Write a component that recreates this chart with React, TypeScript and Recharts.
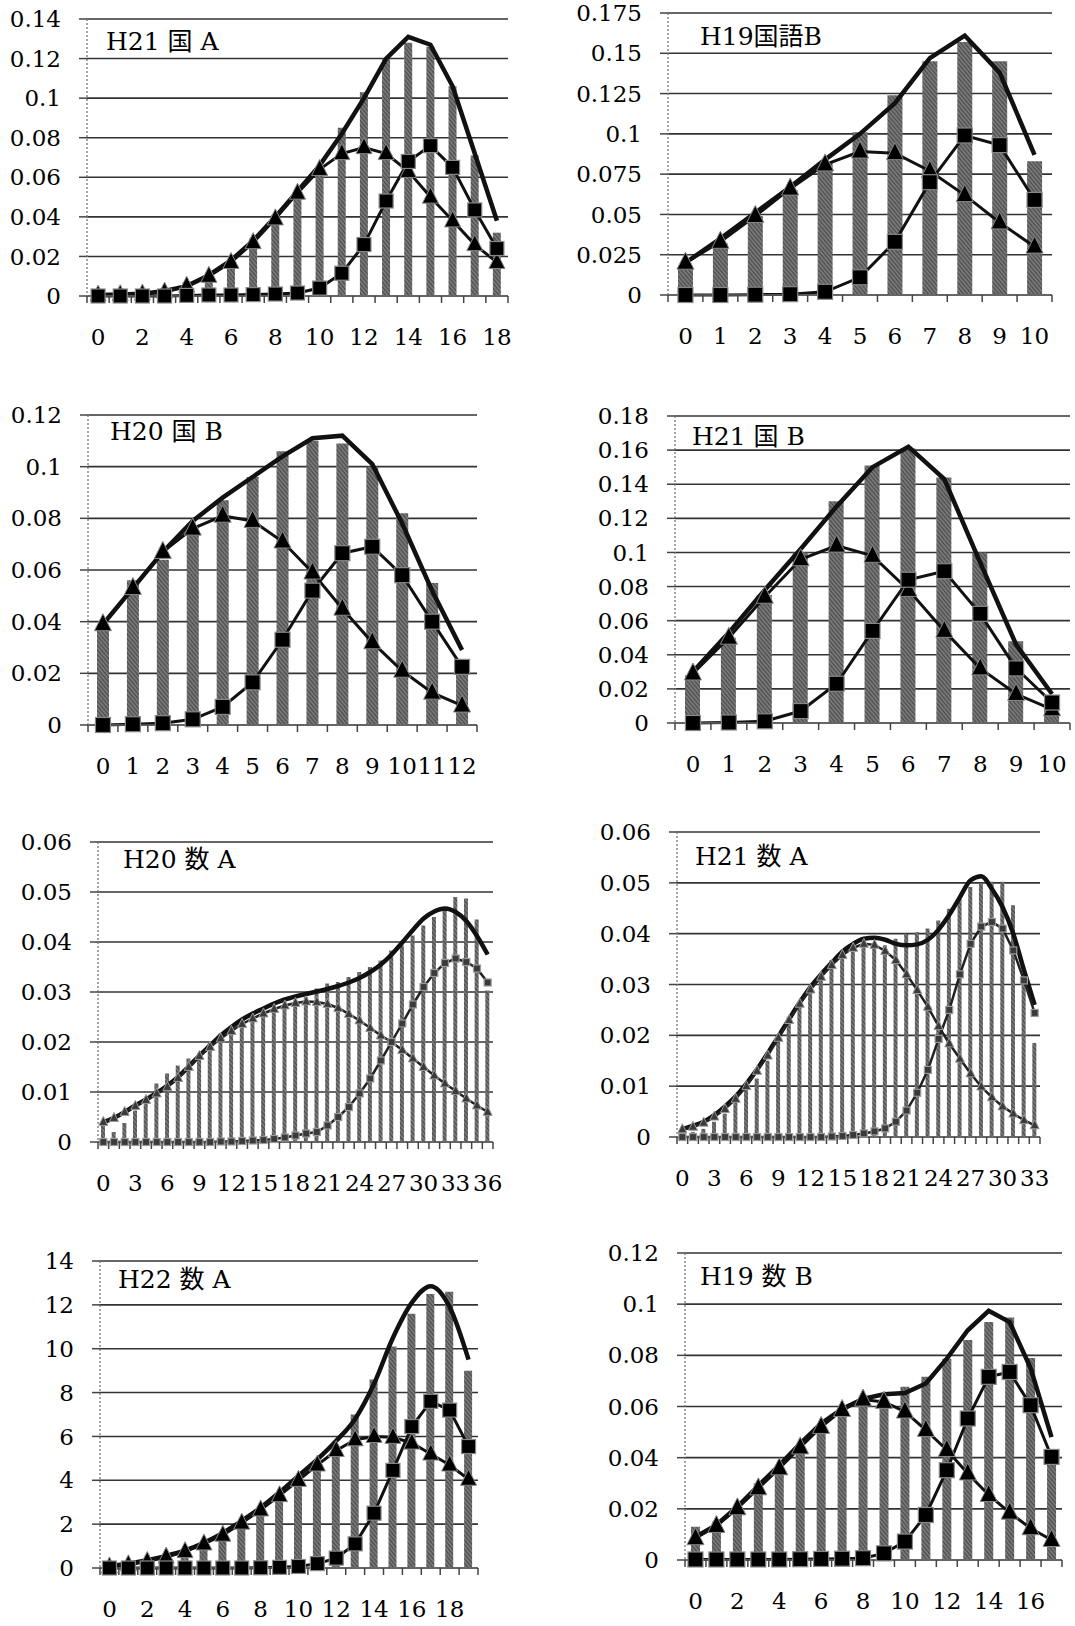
import React from "react";
import { ComposedChart, Bar, Line, XAxis, YAxis, CartesianGrid } from "recharts";

// H21 国A
const kokuA21Cats = [0, 1, 2, 3, 4, 5, 6, 7, 8, 9, 10, 11, 12, 13, 14, 15, 16, 17, 18];
const kokuA21Obs = [0.002, 0.002, 0.002, 0.004, 0.007, 0.01, 0.018, 0.029, 0.041, 0.053, 0.064, 0.085, 0.103, 0.12, 0.128, 0.126, 0.106, 0.071, 0.032];
const kokuA21Sum = [0.0005, 0.0008, 0.0012, 0.0025, 0.005, 0.0105, 0.018, 0.028, 0.04, 0.053, 0.066, 0.082, 0.1, 0.12, 0.131, 0.127, 0.106, 0.072, 0.038];
const kokuA21Low = [0.0005, 0.0007, 0.001, 0.002, 0.005, 0.01, 0.017, 0.027, 0.039, 0.052, 0.064, 0.072, 0.075, 0.072, 0.063, 0.05, 0.038, 0.026, 0.017];
const kokuA21High = [0, 0, 0, 0, 0.0003, 0.0005, 0.0005, 0.0007, 0.001, 0.0015, 0.004, 0.0115, 0.026, 0.048, 0.068, 0.076, 0.065, 0.0435, 0.024];
const kokuA21Ticks = [0, 0.02, 0.04, 0.06, 0.08, 0.1, 0.12, 0.14];

// H19 国語B
const kokuB19Cats = [0, 1, 2, 3, 4, 5, 6, 7, 8, 9, 10];
const kokuB19Obs = [0.018, 0.032, 0.049, 0.065, 0.082, 0.101, 0.124, 0.145, 0.157, 0.145, 0.083];
const kokuB19Sum = [0.02, 0.035, 0.051, 0.067, 0.084, 0.1, 0.119, 0.147, 0.161, 0.138, 0.087];
const kokuB19Low = [0.02, 0.033, 0.049, 0.066, 0.081, 0.089, 0.088, 0.077, 0.062, 0.045, 0.03];
const kokuB19High = [0, 0, 0.0002, 0.0005, 0.002, 0.011, 0.033, 0.07, 0.099, 0.093, 0.059];
const kokuB19Ticks = [0, 0.025, 0.05, 0.075, 0.1, 0.125, 0.15, 0.175];

// H20 国B
const kokuB20Cats = [0, 1, 2, 3, 4, 5, 6, 7, 8, 9, 10, 11, 12];
const kokuB20Obs = [0.037, 0.056, 0.064, 0.076, 0.087, 0.096, 0.106, 0.11, 0.109, 0.1, 0.082, 0.055, 0.024];
const kokuB20Sum = [0.039, 0.053, 0.067, 0.079, 0.088, 0.096, 0.104, 0.111, 0.112, 0.101, 0.078, 0.052, 0.029];
const kokuB20Low = [0.039, 0.053, 0.067, 0.076, 0.081, 0.079, 0.071, 0.059, 0.045, 0.032, 0.021, 0.0125, 0.0075];
const kokuB20High = [0, 0.0003, 0.0007, 0.0022, 0.007, 0.0165, 0.033, 0.052, 0.0665, 0.069, 0.058, 0.04, 0.0225];
const kokuB20Ticks = [0, 0.02, 0.04, 0.06, 0.08, 0.1, 0.12];

// H21 国B
const kokuB21Cats = [0, 1, 2, 3, 4, 5, 6, 7, 8, 9, 10];
const kokuB21Obs = [0.028, 0.05, 0.075, 0.1, 0.13, 0.151, 0.161, 0.144, 0.1, 0.048, 0.014];
const kokuB21Sum = [0.03, 0.053, 0.078, 0.102, 0.127, 0.15, 0.162, 0.143, 0.094, 0.046, 0.017];
const kokuB21Low = [0.029, 0.05, 0.074, 0.096, 0.104, 0.098, 0.078, 0.054, 0.032, 0.017, 0.008];
const kokuB21High = [0, 0.0003, 0.001, 0.007, 0.023, 0.054, 0.084, 0.089, 0.064, 0.032, 0.012];
const kokuB21Ticks = [0, 0.02, 0.04, 0.06, 0.08, 0.1, 0.12, 0.14, 0.16, 0.18];

// H20 数A
const suA20Cats = [0, 1, 2, 3, 4, 5, 6, 7, 8, 9, 10, 11, 12, 13, 14, 15, 16, 17, 18, 19, 20, 21, 22, 23, 24, 25, 26, 27, 28, 29, 30, 31, 32, 33, 34, 35, 36];
const suA20Obs = [0.004, 0.002, 0.0038, 0.0063, 0.008, 0.0117, 0.0137, 0.0153, 0.0167, 0.0177, 0.02, 0.0217, 0.0227, 0.024, 0.0247, 0.0263, 0.028, 0.0273, 0.0283, 0.029, 0.0307, 0.0317, 0.032, 0.033, 0.034, 0.035, 0.0363, 0.0383, 0.0393, 0.0413, 0.0433, 0.045, 0.0467, 0.049, 0.0487, 0.0445, 0.0303];
const suA20Sum = [0.004, 0.0048, 0.006, 0.0073, 0.0085, 0.0098, 0.0113, 0.013, 0.0151, 0.0173, 0.0193, 0.0213, 0.023, 0.0245, 0.0257, 0.0267, 0.0277, 0.0285, 0.0291, 0.0296, 0.0301, 0.0306, 0.0312, 0.0319, 0.0328, 0.034, 0.0355, 0.0375, 0.0399, 0.0424, 0.0447, 0.0461, 0.0467, 0.046, 0.0442, 0.0412, 0.0375];
const suA20Low = [0.004, 0.0048, 0.006, 0.0072, 0.0084, 0.0097, 0.011, 0.0128, 0.015, 0.0172, 0.019, 0.0207, 0.0222, 0.0236, 0.0247, 0.0257, 0.0266, 0.0273, 0.0278, 0.0281, 0.028, 0.0276, 0.0268, 0.0256, 0.0243, 0.0228, 0.0213, 0.02, 0.0184, 0.0167, 0.015, 0.0133, 0.0117, 0.0102, 0.0087, 0.0073, 0.006];
const suA20High = [0, 0, 0, 0, 0, 0, 0, 0, 0, 0, 0, 0.0001, 0.0001, 0.0002, 0.0003, 0.0004, 0.0006, 0.0009, 0.0013, 0.0017, 0.002, 0.0033, 0.005, 0.007, 0.0097, 0.0127, 0.0163, 0.02, 0.0237, 0.0275, 0.031, 0.0338, 0.0358, 0.0367, 0.036, 0.0347, 0.0319];
const suA20Ticks = [0, 0.01, 0.02, 0.03, 0.04, 0.05, 0.06];

// H21 数A
const suA21Cats = [0, 1, 2, 3, 4, 5, 6, 7, 8, 9, 10, 11, 12, 13, 14, 15, 16, 17, 18, 19, 20, 21, 22, 23, 24, 25, 26, 27, 28, 29, 30, 31, 32, 33];
const suA21Obs = [0.0013, 0.001, 0.0016, 0.003, 0.0046, 0.0072, 0.0098, 0.0115, 0.015, 0.0197, 0.0236, 0.0266, 0.0285, 0.0315, 0.0348, 0.036, 0.0364, 0.0374, 0.038, 0.0377, 0.039, 0.04, 0.0403, 0.041, 0.0426, 0.0449, 0.0469, 0.0492, 0.0498, 0.0502, 0.0502, 0.0456, 0.0315, 0.0185];
const suA21Sum = [0.0016, 0.0022, 0.003, 0.0043, 0.006, 0.008, 0.0105, 0.0133, 0.0165, 0.0198, 0.0232, 0.0265, 0.0295, 0.032, 0.0343, 0.0365, 0.038, 0.039, 0.0392, 0.0388, 0.038, 0.0377, 0.0379, 0.0388, 0.0408, 0.0437, 0.0472, 0.0505, 0.0513, 0.0488, 0.0452, 0.04, 0.0328, 0.026];
const suA21Low = [0.0015, 0.002, 0.0028, 0.004, 0.0055, 0.0075, 0.01, 0.013, 0.016, 0.0195, 0.023, 0.0262, 0.029, 0.0315, 0.0338, 0.0358, 0.0372, 0.038, 0.0378, 0.0366, 0.0348, 0.032, 0.0289, 0.0256, 0.0218, 0.0184, 0.0154, 0.0125, 0.0099, 0.0078, 0.006, 0.0046, 0.0033, 0.0023];
const suA21High = [0, 0, 0, 0, 0, 0, 0, 0, 0, 0, 0, 0, 0, 0, 0.0001, 0.0002, 0.0004, 0.0007, 0.0011, 0.0017, 0.003, 0.0052, 0.0087, 0.0132, 0.0193, 0.025, 0.032, 0.038, 0.0414, 0.0423, 0.041, 0.0367, 0.0308, 0.0244];
const suA21Ticks = [0, 0.01, 0.02, 0.03, 0.04, 0.05, 0.06];

// H22 数A
const suA22Cats = [0, 1, 2, 3, 4, 5, 6, 7, 8, 9, 10, 11, 12, 13, 14, 15, 16, 17, 18, 19];
const suA22Obs = [0.1, 0.15, 0.3, 0.5, 0.75, 1.0, 1.6, 2.0, 2.65, 3.3, 4.0, 4.6, 5.2, 7.0, 8.6, 10.1, 11.6, 12.5, 12.6, 9.0];
const suA22Sum = [0.1, 0.2, 0.35, 0.55, 0.8, 1.15, 1.6, 2.15, 2.75, 3.45, 4.2, 4.95, 5.8, 6.8, 8.4, 10.5, 12.1, 12.85, 11.9, 9.5];
const suA22Low = [0.05, 0.15, 0.3, 0.5, 0.75, 1.1, 1.5, 2.05, 2.65, 3.3, 4.0, 4.7, 5.36, 5.85, 6.0, 5.96, 5.7, 5.2, 4.7, 4.05];
const suA22High = [0, 0, 0, 0, 0, 0, 0, 0, 0.01, 0.03, 0.07, 0.2, 0.45, 1.1, 2.5, 4.45, 6.45, 7.6, 7.2, 5.54];
const suA22Ticks = [0, 2, 4, 6, 8, 10, 12, 14];

// H19 数B
const suB19Cats = [0, 1, 2, 3, 4, 5, 6, 7, 8, 9, 10, 11, 12, 13, 14, 15, 16, 17];
const suB19Obs = [0.013, 0.015, 0.021, 0.03, 0.035, 0.043, 0.05, 0.0575, 0.061, 0.061, 0.0677, 0.0716, 0.0787, 0.086, 0.093, 0.0948, 0.079, 0.04];
const suB19Sum = [0.009, 0.0137, 0.0208, 0.029, 0.037, 0.0455, 0.0534, 0.059, 0.063, 0.0648, 0.0653, 0.069, 0.0787, 0.0898, 0.0974, 0.093, 0.075, 0.048];
const suB19Low = [0.0085, 0.0133, 0.0202, 0.028, 0.0358, 0.044, 0.052, 0.0586, 0.0627, 0.0618, 0.058, 0.0508, 0.043, 0.0338, 0.0254, 0.0185, 0.0124, 0.0078];
const suB19High = [0.0002, 0.0002, 0.0002, 0.0002, 0.0002, 0.0003, 0.0004, 0.0005, 0.0007, 0.0026, 0.0072, 0.0176, 0.0351, 0.0553, 0.0716, 0.0735, 0.0605, 0.0403];
const suB19Ticks = [0, 0.02, 0.04, 0.06, 0.08, 0.1, 0.12];

const FONT = "'DejaVu Serif', 'Noto Sans CJK JP', serif";

interface Box { left: number; top: number; width: number; height: number }
interface Plot { l: number; r: number; t: number; b: number }

interface PanelProps {
  title: string;
  cats: number[];
  obs: number[];
  sum: number[];
  low: number[];
  high: number[];
  yTicks: number[];
  labelEvery: number;
  box: Box;
  plot: Plot;
  titleAt: [number, number];
  barSize: number;
  mark: number;
  small?: boolean;
  smooth?: boolean;
}

const triangle = (s: number, fill: string, edge: string) => (p: any) => {
  const { cx, cy, index } = p;
  return (
    <path
      key={`t${index}`}
      d={`M${cx},${cy - s * 0.62} L${cx + s / 2},${cy + s * 0.38} L${cx - s / 2},${cy + s * 0.38} Z`}
      fill={fill}
      stroke={edge}
      strokeWidth={1}
    />
  );
};

const square = (s: number, fill: string, edge: string) => (p: any) => {
  const { cx, cy, index } = p;
  return <rect key={`s${index}`} x={cx - s / 2} y={cy - s / 2} width={s} height={s} fill={fill} stroke={edge} strokeWidth={1.2} />;
};

function Panel(props: PanelProps) {
  const { title, cats, obs, sum, low, high, yTicks, labelEvery, box, plot, titleAt, barSize, mark, small, smooth } = props;
  const data = cats.map((c, i) => ({ c, obs: obs[i], sum: sum[i], low: low[i], high: high[i] }));
  const band = (plot.r - plot.l) / cats.length;

  const xTick = (p: any) => {
    const { x, y, index, payload } = p;
    return (
      <g>
        {index === 0 && <line x1={x - band / 2} x2={x - band / 2} y1={y} y2={y + 7} stroke="#444" strokeWidth={1.5} />}
        <line x1={x + band / 2} x2={x + band / 2} y1={y} y2={y + 7} stroke="#444" strokeWidth={1.5} />
        {index % labelEvery === 0 && (
          <text x={x} y={y + 49} textAnchor="middle" fontSize={23} fontFamily={FONT} fill="#000">
            {payload.value}
          </text>
        )}
      </g>
    );
  };

  const lineW = small ? 2.5 : 3;
  const markFill = small ? "#3a3a3a" : "#000";
  const markEdge = small ? "#999" : "#888";

  return (
    <>
      <div style={{ position: "absolute", left: box.left, top: box.top }}>
        <ComposedChart
          width={box.width}
          height={box.height}
          data={data}
          margin={{ top: plot.t - box.top, right: box.left + box.width - plot.r, bottom: 0, left: 0 }}
        >
          <CartesianGrid vertical={false} stroke="#333" strokeWidth={1.6} />
          <XAxis
            dataKey="c"
            height={box.top + box.height - plot.b}
            interval={0}
            tickSize={0}
            tickMargin={0}
            tickLine={false}
            tick={xTick}
            axisLine={{ stroke: "#666", strokeWidth: 1.5 }}
          />
          <YAxis
            type="number"
            width={plot.l - box.left}
            domain={[yTicks[0], yTicks[yTicks.length - 1]]}
            ticks={yTicks}
            interval={0}
            tickSize={8}
            tickMargin={18}
            tickLine={{ stroke: "#444", strokeWidth: 1.5 }}
            axisLine={{ stroke: "#888", strokeWidth: 1.5, strokeDasharray: "2 2" }}
            tick={{ fontSize: 23, fontFamily: FONT, fill: "#000" }}
          />
          <Bar dataKey="obs" fill="url(#hatch)" barSize={barSize} isAnimationActive={false} />
          <Line
            dataKey="sum"
            type={smooth ? "monotone" : "linear"}
            stroke="#111"
            strokeWidth={4.5}
            dot={false}
            activeDot={false}
            isAnimationActive={false}
          />
          <Line
            dataKey="low"
            type="linear"
            stroke={small ? "#222" : "#111"}
            strokeWidth={lineW}
            dot={triangle(mark + 1, markFill, markEdge)}
            activeDot={false}
            isAnimationActive={false}
          />
          <Line
            dataKey="high"
            type="linear"
            stroke={small ? "#222" : "#111"}
            strokeWidth={lineW}
            dot={square(mark - 1, markFill, markEdge)}
            activeDot={false}
            isAnimationActive={false}
          />
        </ComposedChart>
      </div>
      <div
        style={{
          position: "absolute",
          left: titleAt[0],
          top: titleAt[1] - 21,
          fontFamily: FONT,
          fontSize: 25,
          lineHeight: "25px",
          whiteSpace: "pre",
          color: "#000",
        }}
      >
        {title}
      </div>
    </>
  );
}

export default function App() {
  return (
    <div style={{ position: "absolute", left: 0, top: 0, width: 1075, height: 1626, background: "#fff", overflow: "hidden" }}>
      <svg width={0} height={0} style={{ position: "absolute" }}>
        <defs>
          <pattern id="hatch" patternUnits="userSpaceOnUse" width={3} height={3} patternTransform="rotate(-40)">
            <rect width={3} height={3} fill="#777" />
            <line x1={0} y1={0} x2={0} y2={3} stroke="#333" strokeWidth={1.4} />
          </pattern>
        </defs>
      </svg>

      <Panel
        title="H21 国 A"
        cats={kokuA21Cats} obs={kokuA21Obs} sum={kokuA21Sum} low={kokuA21Low} high={kokuA21High}
        yTicks={kokuA21Ticks} labelEvery={2}
        box={{ left: 0, top: 0, width: 540, height: 360 }}
        plot={{ l: 87, r: 508, t: 19, b: 296 }}
        titleAt={[106, 50]} barSize={8} mark={15}
      />
      <Panel
        title="H19国語B"
        cats={kokuB19Cats} obs={kokuB19Obs} sum={kokuB19Sum} low={kokuB19Low} high={kokuB19High}
        yTicks={kokuB19Ticks} labelEvery={1}
        box={{ left: 540, top: 0, width: 535, height: 360 }}
        plot={{ l: 668, r: 1052, t: 13, b: 295 }}
        titleAt={[700, 45]} barSize={15} mark={16}
      />
      <Panel
        title="H20 国 B"
        cats={kokuB20Cats} obs={kokuB20Obs} sum={kokuB20Sum} low={kokuB20Low} high={kokuB20High}
        yTicks={kokuB20Ticks} labelEvery={1}
        box={{ left: 0, top: 390, width: 540, height: 400 }}
        plot={{ l: 88, r: 477, t: 415, b: 725 }}
        titleAt={[110, 440]} barSize={12} mark={16}
      />
      <Panel
        title="H21 国 B"
        cats={kokuB21Cats} obs={kokuB21Obs} sum={kokuB21Sum} low={kokuB21Low} high={kokuB21High}
        yTicks={kokuB21Ticks} labelEvery={1}
        box={{ left: 540, top: 390, width: 535, height: 400 }}
        plot={{ l: 675, r: 1070, t: 416, b: 723 }}
        titleAt={[692, 445]} barSize={15} mark={16}
      />
      <Panel
        title="H20 数 A"
        cats={suA20Cats} obs={suA20Obs} sum={suA20Sum} low={suA20Low} high={suA20High}
        yTicks={suA20Ticks} labelEvery={3}
        box={{ left: 0, top: 810, width: 540, height: 400 }}
        plot={{ l: 98, r: 493, t: 842, b: 1142 }}
        titleAt={[123, 868]} barSize={4} mark={8} small smooth
      />
      <Panel
        title="H21 数 A"
        cats={suA21Cats} obs={suA21Obs} sum={suA21Sum} low={suA21Low} high={suA21High}
        yTicks={suA21Ticks} labelEvery={3}
        box={{ left: 540, top: 810, width: 535, height: 400 }}
        plot={{ l: 677, r: 1040, t: 832, b: 1137 }}
        titleAt={[695, 865]} barSize={4} mark={8} small smooth
      />
      <Panel
        title="H22 数 A"
        cats={suA22Cats} obs={suA22Obs} sum={suA22Sum} low={suA22Low} high={suA22High}
        yTicks={suA22Ticks} labelEvery={2}
        box={{ left: 0, top: 1230, width: 540, height: 396 }}
        plot={{ l: 100, r: 478, t: 1261, b: 1568 }}
        titleAt={[118, 1288]} barSize={8} mark={15} smooth
      />
      <Panel
        title="H19 数 B"
        cats={suB19Cats} obs={suB19Obs} sum={suB19Sum} low={suB19Low} high={suB19High}
        yTicks={suB19Ticks} labelEvery={2}
        box={{ left: 540, top: 1230, width: 535, height: 396 }}
        plot={{ l: 685, r: 1062, t: 1253, b: 1560 }}
        titleAt={[700, 1285]} barSize={9} mark={16}
      />
    </div>
  );
}
